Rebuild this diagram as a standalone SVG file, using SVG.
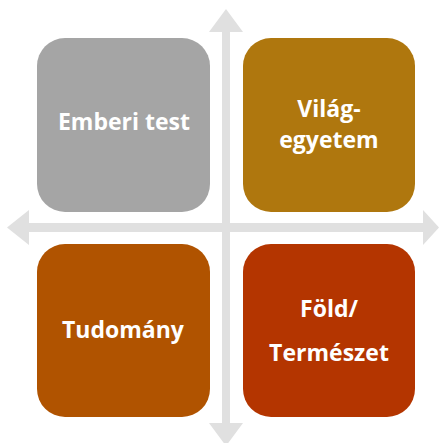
<svg xmlns="http://www.w3.org/2000/svg" width="439" height="443" viewBox="0 0 439 443">
<style>
.arrow{fill:#E0E0E0}
.lbl{font-family:"Open Sans","Noto Sans","Liberation Sans",sans-serif;font-weight:bold;font-size:23px;fill:#FFFFFF;text-anchor:middle}
</style>
<rect width="439" height="443" fill="#FFFFFF"/>
<g id="connectors">
<polygon class="arrow" points="222,32 209,32 226,9 243,32 230,32 230,423 243,423 226,446 209,423 222,423"/>
<polygon class="arrow" points="29,223 29,210 7,227.5 29,245 29,232 423,232 423,245 439,227.5 423,210 423,223"/>
</g>
<g id="emberi-test">
<rect x="37" y="38" width="173" height="174" rx="28" fill="#A5A5A5"/>
<text class="lbl" x="124" y="130">Emberi test</text>
</g>
<g id="vilagegyetem">
<rect x="243" y="38" width="172" height="174" rx="28" fill="#AF770E"/>
<text class="lbl" x="329" y="117">Világ-</text>
<text class="lbl" x="329" y="148">egyetem</text>
</g>
<g id="tudomany">
<rect x="37" y="244" width="173" height="173" rx="28" fill="#B05300"/>
<text class="lbl" x="123" y="338">Tudomány</text>
</g>
<g id="fold-termeszet">
<rect x="243" y="244" width="172" height="173" rx="28" fill="#B43500"/>
<text class="lbl" x="329" y="317">Föld/</text>
<text class="lbl" x="329" y="361">Természet</text>
</g>
</svg>
